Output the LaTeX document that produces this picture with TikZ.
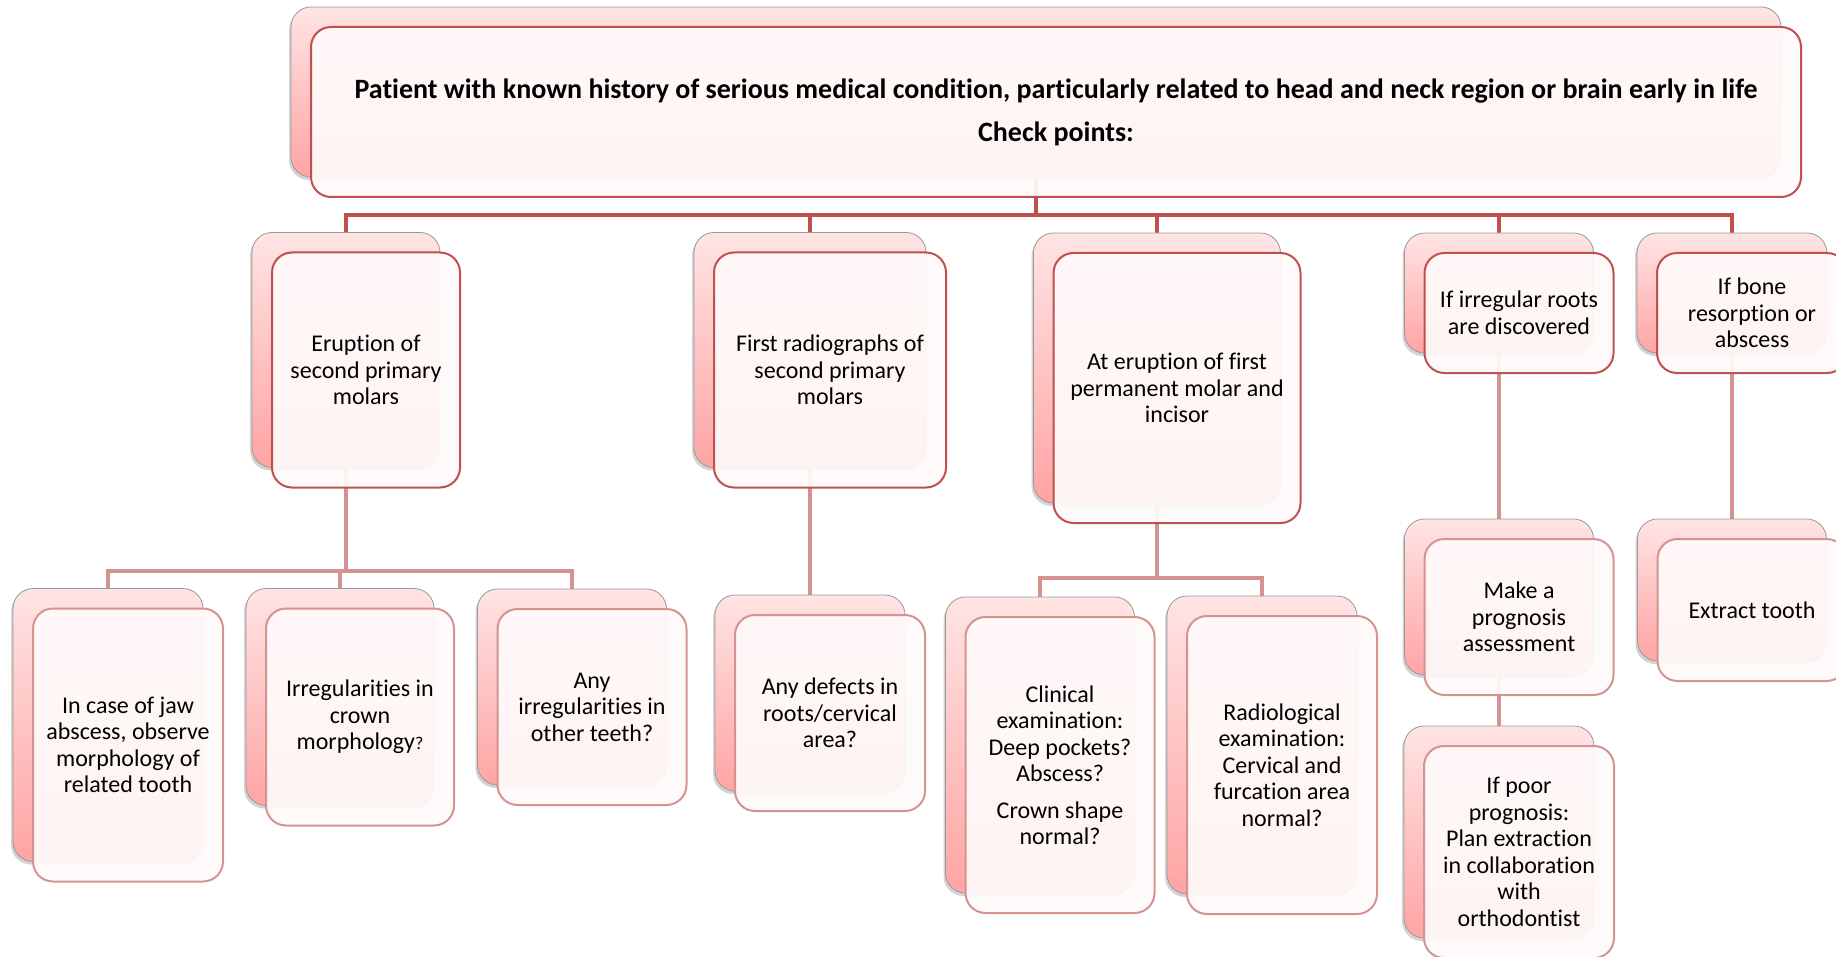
\documentclass[tikz,border=0pt]{standalone}
\usepackage{fontspec}
\setmainfont{Carlito}[Ligatures=NoCommon]
\usetikzlibrary{shadows}
\definecolor{redline}{RGB}{192,80,77}
\definecolor{pinkline}{RGB}{212,146,145}
\definecolor{backtop}{RGB}{255,228,228}
\definecolor{backbot}{RGB}{255,164,164}
\definecolor{frontfill}{RGB}{255,250,250}
\pgfdeclarelayer{bg}
\pgfsetlayers{bg,main}

\begin{document}
\begin{tikzpicture}[x=0.5pt,y=-0.5pt,
  back/.style={rounded corners=10pt, draw=gray!80, line width=0.4pt, top color=backtop, bottom color=backbot,
    drop shadow={shadow xshift=-1pt, shadow yshift=-1.5pt, opacity=0.35}, inner sep=0pt},
  front/.style={rounded corners=10pt, draw=redline, line width=1pt, fill=frontfill, fill opacity=0.93,
    text opacity=1, inner sep=0pt, align=center, font=\fontsize{12}{13.25}\selectfont},
  frontlow/.style={front, draw=pinkline},
  bar/.style={redline, line width=2pt},
  twig/.style={pinkline, line width=2pt}]
\useasboundingbox (0,0) rectangle (1836,957);

% top
\node[back, minimum width=745pt, minimum height=85pt] (tb) at (1036,92) {};
\node[front, minimum width=745pt, minimum height=85pt, font=\fontsize{14}{17}\selectfont\bfseries] (tf) at ([shift={(20,20)}]tb.center)
  {Patient with known history of serious medical condition, particularly related to head and neck region or brain early in life\\[4.5pt]Check points:};

% check points
\node[back, minimum width=94pt, minimum height=117.5pt] (b1) at (346,350) {};
\node[front, minimum width=94pt, minimum height=117.5pt] (f1) at ([shift={(20,20)}]b1.center) {Eruption of\\second primary\\molars};
\node[back, minimum width=116pt, minimum height=117.5pt] (b2) at (810,350) {};
\node[front, minimum width=116pt, minimum height=117.5pt] (f2) at ([shift={(20,20)}]b2.center) {First radiographs of\\second primary\\molars};
\node[back, minimum width=123.5pt, minimum height=135pt] (b3) at (1157,368) {};
\node[front, minimum width=123.5pt, minimum height=135pt] (f3) at ([shift={(20,20)}]b3.center) {At eruption of first\\permanent molar and\\incisor};
\node[back, minimum width=94.5pt, minimum height=60pt] (b4) at (1499,293) {};
\node[front, minimum width=94.5pt, minimum height=60pt] (f4) at ([shift={(20,20)}]b4.center) {If irregular roots\\are discovered};
\node[back, minimum width=95pt, minimum height=60pt] (b5) at (1732,293) {};
\node[front, minimum width=95pt, minimum height=60pt] (f5) at ([shift={(20,20)}]b5.center) {If bone\\resorption or\\abscess};

% what to look for
\node[back, minimum width=95pt, minimum height=136.5pt] (l1) at (108,725) {};
\node[frontlow, minimum width=95pt, minimum height=136.5pt] (g1) at ([shift={(20,20)}]l1.center) {In case of jaw\\abscess, observe\\morphology of\\related tooth};
\node[back, minimum width=94pt, minimum height=108.5pt] (l2) at (340,697) {};
\node[frontlow, minimum width=94pt, minimum height=108.5pt] (g2) at ([shift={(20,20)}]l2.center) {Irregularities in\\crown\\morphology{\fontsize{9}{9}\selectfont?}};
\node[back, minimum width=94.5pt, minimum height=98pt] (l3) at (572,687) {};
\node[frontlow, minimum width=94.5pt, minimum height=98pt] (g3) at ([shift={(20,20)}]l3.center) {Any\\irregularities in\\other teeth?};
\node[back, minimum width=95pt, minimum height=98pt] (d1) at (810,693) {};
\node[frontlow, minimum width=95pt, minimum height=98pt] (h1) at ([shift={(20,20)}]d1.center) {Any defects in\\roots/cervical\\area?};
\node[back, minimum width=94.5pt, minimum height=148pt] (c1) at (1040,745) {};
\node[frontlow, minimum width=94.5pt, minimum height=148pt] (k1) at ([shift={(20,20)}]c1.center) {Clinical\\examination:\\Deep pockets?\\Abscess?\\[5pt]Crown shape\\normal?};
\node[back, minimum width=95pt, minimum height=149pt] (c2) at (1262,745) {};
\node[frontlow, minimum width=95pt, minimum height=149pt] (k2) at ([shift={(20,20)}]c2.center) {Radiological\\examination:\\Cervical and\\furcation area\\normal?};
\node[back, minimum width=94.5pt, minimum height=78pt] (p1) at (1499,597) {};
\node[frontlow, minimum width=94.5pt, minimum height=78pt] (q1) at ([shift={(20,20)}]p1.center) {Make a\\prognosis\\assessment};
\node[back, minimum width=94.5pt, minimum height=71pt] (e1) at (1732,590) {};
\node[frontlow, minimum width=94.5pt, minimum height=71pt] (x1) at ([shift={(20,20)}]e1.center) {Extract tooth};
\node[back, minimum width=95pt, minimum height=106pt] (p2) at (1499,832) {};
\node[frontlow, minimum width=95pt, minimum height=106pt] (q2) at ([shift={(20,20)}]p2.center) {If poor\\prognosis:\\Plan extraction\\in collaboration\\with\\orthodontist};

\begin{pgfonlayer}{bg}
\foreach \c in {b1,b2,b3,b4,b5}
  \draw[bar] (tb.south) -- ++(0,38) -| (\c.north);
\foreach \c in {l1,l2,l3}
  \draw[twig] (b1.south) -- ++(0,103) -| (\c.north);
\draw[twig] (b2.south) -- (d1.north);
\foreach \c in {c1,c2}
  \draw[twig] (b3.south) -- ++(0,75) -| (\c.north);
\draw[twig] (b4.south) -- (p1.north);
\draw[twig] (p1.south) -- (p2.north);
\draw[twig] (b5.south) -- (e1.north);
\end{pgfonlayer}
\end{tikzpicture}
\end{document}
